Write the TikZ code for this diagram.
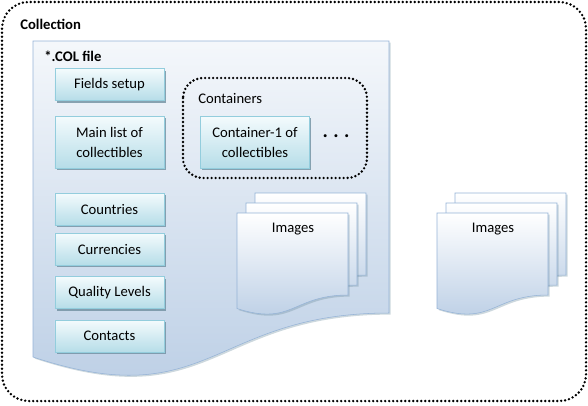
\documentclass[tikz,border=0pt]{standalone}
\usepackage{fontspec}
\setmainfont{Carlito}
\usepackage{tikz}
\usetikzlibrary{shadows}
\definecolor{boxtop}{HTML}{F4FBFD}
\definecolor{boxbot}{HTML}{B6DDE8}
\definecolor{boxline}{HTML}{93CDDD}
\definecolor{docbot}{HTML}{B8CCE4}
\definecolor{docline}{HTML}{95B3D7}
\definecolor{shade}{HTML}{6F8FA0}
\tikzstyle{dotbox}=[line width=2pt, dash pattern=on 0pt off 3pt, line cap=round]
\tikzstyle{part}=[draw=boxline, top color=boxtop, bottom color=boxbot, minimum width=82pt, minimum height=24pt, inner sep=2pt, align=center, font=\fontsize{11}{15}\selectfont, drop shadow={shadow xshift=1.3pt, shadow yshift=-1.5pt, fill=shade, opacity=0.8}]
\tikzstyle{tall}=[part, minimum height=39pt]
\tikzstyle{page}=[draw=docline, top color=white, bottom color=docbot, drop shadow={shadow xshift=1.2pt, shadow yshift=-1.2pt, fill=shade, opacity=0.35}]
\tikzstyle{lbl}=[inner sep=0pt, anchor=base west, font=\fontsize{11}{15}\selectfont]
\begin{document}
\begin{tikzpicture}[x=0.75pt, y=-0.75pt]
    %\draw [help lines, step=20] (0,0) grid (588,405);
    \useasboundingbox (0,0) rectangle (588,405);
    \draw [dotbox, rounded corners=20] (2,2) rectangle (586,401);
    \node [lbl, font=\fontsize{11}{15}\selectfont\bfseries] (coll) at (20,29) {Collection};

    % the .COL file
    \draw [page, top color=docbot!15] (33,41) -- (389,41) -- (389,313) .. controls (211,313) and (211,416) .. (33,357) -- cycle;
    \node [lbl, font=\fontsize{11}{15}\selectfont\bfseries] (colfile) at (44,61) {*.COL file};

    \node [part] (fields)   at (109.5,84.5) {Fields setup};
    \node [tall] (mainlist) at (109.5,142)  {Main list of\\collectibles};
    \node [part] (countries) at (109.5,209) {Countries};
    \node [part] (curr)     at (109.5,249)  {Currencies};
    \node [part] (quality)  at (109.5,292.5) {Quality Levels};
    \node [part] (contacts) at (109.5,336)  {Contacts};

    \draw [dotbox, rounded corners=15] (183,78) rectangle (367,178);
    \node [lbl] (cont) at (198,103) {Containers};
    \node [tall] (cont1) at (255,142) {Container-1 of\\collectibles};
    \node [font=\fontsize{15}{15}\selectfont\bfseries, inner sep=0pt] (more) at (336,136) {.\hspace{4pt}.\hspace{4pt}.};

    % image stacks
    \foreach \x in {237,437}
      \foreach \dx/\dy in {18/-20,9/-10,0/0}
        \draw [page] (\x+\dx,213+\dy) -- ++(111,0) -- ++(0,82) .. controls +(-55.5,0) and +(55.5,18) .. ++(-111,13.5) -- cycle;
    \node [lbl, anchor=base] (img1) at (293,232) {Images};
    \node [lbl, anchor=base] (img2) at (493,232) {Images};
\end{tikzpicture}
\end{document}
